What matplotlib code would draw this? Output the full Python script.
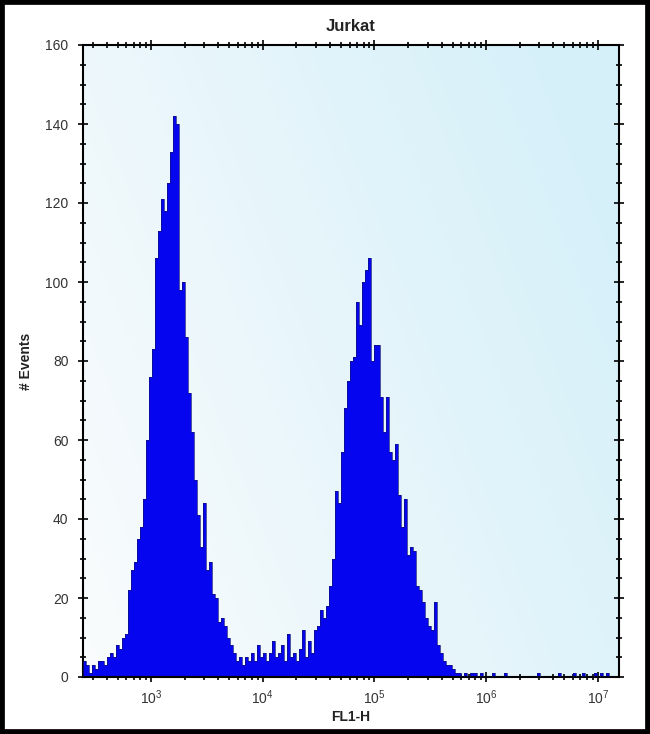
"""Jurkat 流式直方图 (FL1-H)。"""

import matplotlib

matplotlib.use("Agg")
import matplotlib.pyplot as plt
import numpy as np
from matplotlib.patches import Rectangle
from matplotlib.ticker import LogLocator, MultipleLocator, NullFormatter

plt.rcParams["font.family"] = ["Liberation Sans", "DejaVu Sans"]
plt.rcParams["mathtext.default"] = "regular"

TITLE = "Jurkat"
X_LABEL = "FL1-H"
Y_LABEL = "# Events"

# 通道定义: 第一个通道的 log10 起点, 每个通道宽度 (decade)
LOG_START = 2.39
CHANNEL_DECADES = 0.0269

# 每个通道的事件数
counts = [
    4, 3, 1, 3, 2, 4, 4, 3, 5, 6,
    5, 8, 7, 10, 11, 22, 27, 29, 35, 38,
    45, 60, 76, 83, 106, 113, 121, 118, 125, 133,
    142, 140, 98, 100, 86, 72, 62, 50, 41, 33,
    44, 27, 29, 21, 20, 14, 15, 13, 10, 8,
    6, 4, 5, 3, 5, 4, 6, 4, 8, 5,
    6, 4, 6, 9, 5, 6, 8, 4, 11, 5,
    6, 4, 7, 12, 5, 9, 6, 12, 13, 17,
    15, 18, 23, 30, 47, 44, 57, 68, 75, 80,
    81, 95, 89, 100, 103, 106, 80, 84, 84, 71,
    62, 71, 57, 55, 59, 46, 38, 45, 31, 33,
    32, 23, 22, 19, 15, 13, 12, 19, 8, 6,
    4, 3, 3, 2, 1, 1, 0, 1, 0, 1,
    1, 0, 1, 0, 0, 0, 1, 0, 0, 0,
    1, 0, 0, 0, 0, 0, 0, 0, 0, 0,
    0, 1, 0, 0, 0, 0, 0, 0, 1, 0,
    0, 0, 0, 1, 0, 0, 1, 0, 0, 0,
    1, 0, 1, 0, 1, 0, 0, 0, 0,
]

y_max = 160
x_min_dec, x_max_dec = 2.39, 7.19


def main():
    fig = plt.figure(figsize=(6.5, 7.34), dpi=100)
    fig.patch.set_facecolor("white")
    pos = [83 / 650, 1 - 677 / 734, (619 - 83) / 650, (677 - 45) / 734]

    # 背景渐变 (左上白 -> 右侧浅青)
    bg = fig.add_axes(pos, zorder=0)
    gx, gy = np.meshgrid(np.linspace(0, 1, 200), np.linspace(1, 0, 200))
    t = np.clip(0.75 * gx + 0.35 * gy, 0, 1)[..., None]
    c0 = np.array([250, 252, 253]) / 255
    c1 = np.array([214, 240, 249]) / 255
    bg.imshow(c0 * (1 - t) + c1 * t, aspect="auto", extent=[0, 1, 0, 1], interpolation="bilinear")
    bg.set_axis_off()

    ax = fig.add_axes(pos, zorder=1)
    ax.set_facecolor("none")

    edges = 10 ** (LOG_START + CHANNEL_DECADES * np.arange(len(counts) + 1))
    ax.stairs(counts, edges, fill=True, color="#0505f0", zorder=2)
    ax.stairs(counts, edges, color="#10107a", lw=0.5, zorder=3)

    ax.set_xscale("log")
    ax.set_xlim(10 ** x_min_dec, 10 ** x_max_dec)
    ax.set_ylim(0, y_max)

    ax.xaxis.set_major_locator(LogLocator(base=10))
    ax.xaxis.set_minor_locator(LogLocator(base=10, subs=np.arange(2, 10)))
    ax.xaxis.set_minor_formatter(NullFormatter())
    ax.yaxis.set_major_locator(MultipleLocator(20))
    ax.yaxis.set_minor_locator(MultipleLocator(5))

    ax.tick_params(which="both", direction="inout", top=True, right=True,
                   colors="black", labelcolor="#333333", labelsize=10, width=1.2)
    ax.tick_params(which="major", length=7, pad=7)
    ax.tick_params(axis="x", which="major", pad=5)
    ax.tick_params(which="minor", length=5)
    for sp in ax.spines.values():
        sp.set_linewidth(1.5)

    ax.set_title(TITLE, fontsize=12, fontweight="bold", color="#222222", pad=10)
    ax.set_xlabel(X_LABEL, fontsize=10, fontweight="bold", color="#222222", labelpad=2)
    ax.set_ylabel(Y_LABEL, fontsize=10, fontweight="bold", color="#222222", labelpad=9)

    # 外框
    fig.patches.append(Rectangle((0, 0), 1, 1, transform=fig.transFigure, fill=False,
                                 edgecolor="black", linewidth=7, zorder=10))

    fig.savefig("out.png", dpi=100)
    plt.close(fig)


if __name__ == "__main__":
    main()
